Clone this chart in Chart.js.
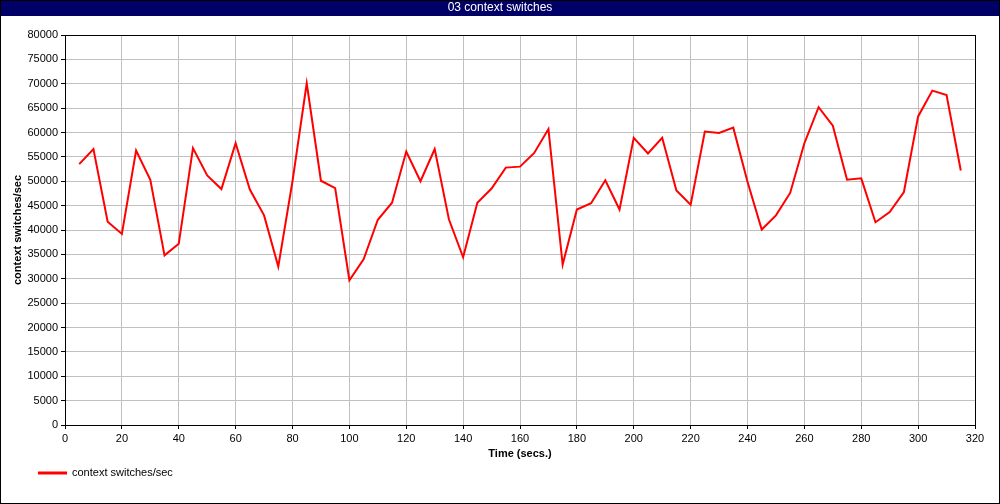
<!DOCTYPE html>
<html>
<head>
<meta charset="utf-8">
<script src="https://cdn.jsdelivr.net/npm/chart.js@4"></script>
<style>
html,body{margin:0;padding:0;background:#fff;}
#wrap{width:1000px;height:504px;position:relative;}
</style>
</head>
<body>
<div id="wrap"><canvas id="c" width="1000" height="504"></canvas></div>
<script>
const chartTitle = "03 context switches";
const seriesName = "context switches/sec";
const xTitle = "Time (secs.)";
const yTitle = "context switches/sec";
const times = [5,10,15,20,25,30,35,40,45,50,55,60,65,70,75,80,85,90,95,100,105,110,115,120,125,130,135,140,145,150,155,160,165,170,175,180,185,190,195,200,205,210,215,220,225,230,235,240,245,250,255,260,265,270,275,280,285,290,295,300,305,310,315];
const switches = [53500,56600,41700,39200,56300,50300,34800,37200,56800,51200,48400,57800,48300,43000,32500,50000,70100,50100,48600,29700,34000,42100,45600,56100,50000,56600,42200,34400,45600,48500,52800,53000,55800,60700,32900,44200,45500,50200,44200,58900,55700,58900,48100,45200,60200,59900,61000,49900,40100,43000,47600,57800,65200,61400,50300,50600,41600,43700,47800,63300,68600,67700,52200];
const xMin = 0, xMax = 320, xStep = 20;
const yMin = 0, yMax = 80000, yStep = 5000;

const FONT = "'Liberation Sans', Arial, sans-serif";

const framePlugin = {
  id: 'frame',
  beforeDraw(chart) {
    const ctx = chart.ctx;
    ctx.save();
    ctx.fillStyle = '#ffffff';
    ctx.fillRect(0, 0, chart.width, chart.height);
    ctx.fillStyle = '#000066';
    ctx.fillRect(0, 0, chart.width, 16);
    ctx.fillStyle = '#ffffff';
    ctx.font = '12px ' + FONT;
    ctx.textAlign = 'center';
    ctx.textBaseline = 'middle';
    ctx.fillText(chartTitle, chart.width / 2, 8);
    ctx.restore();
  },
  afterDraw(chart) {
    const ctx = chart.ctx;
    const a = chart.chartArea;
    ctx.save();
    ctx.strokeStyle = '#000';
    ctx.lineWidth = 1;
    ctx.strokeRect(Math.round(a.left) + 0.5, Math.round(a.top) + 0.5, Math.round(a.right - a.left), Math.round(a.bottom - a.top));
    ctx.strokeRect(0.5, 0.5, chart.width - 1, chart.height - 1);
    // legend
    const ds = chart.data.datasets[0];
    ctx.strokeStyle = ds.borderColor;
    ctx.lineWidth = 3;
    ctx.beginPath();
    ctx.moveTo(38, 473);
    ctx.lineTo(67, 473);
    ctx.stroke();
    ctx.fillStyle = '#000';
    ctx.font = '11px ' + FONT;
    ctx.textAlign = 'left';
    ctx.textBaseline = 'middle';
    ctx.fillText(ds.label, 72, 473);
    ctx.restore();
  }
};

new Chart(document.getElementById('c'), {
  type: 'line',
  data: {
    datasets: [{
      label: seriesName,
      data: times.map((t, i) => ({x: t, y: switches[i]})),
      borderColor: '#ff0000',
      borderWidth: 2,
      pointRadius: 0,
      tension: 0,
      fill: false
    }]
  },
  options: {
    responsive: false,
    animation: false,
    devicePixelRatio: 1,
    layout: { padding: { left: 0, right: 25, top: 35, bottom: 39 } },
    plugins: { legend: { display: false }, title: { display: false }, tooltip: { enabled: false } },
    scales: {
      x: {
        type: 'linear', min: xMin, max: xMax,
        ticks: { stepSize: xStep, color: '#000', font: { family: FONT, size: 11 }, padding: 3, maxRotation: 0, autoSkip: false, callback: v => String(v) },
        grid: { color: '#c0c0c0', tickColor: '#000', tickLength: 4, lineWidth: 1 },
        border: { color: '#000', width: 1 },
        title: { display: true, text: xTitle, color: '#000', font: { family: FONT, size: 11, weight: 'bold' }, padding: { top: 0, bottom: 4 } },
        afterFit(scale) { scale.height = 40; }
      },
      y: {
        type: 'linear', min: yMin, max: yMax,
        ticks: { stepSize: yStep, color: '#000', font: { family: FONT, size: 11 }, padding: 3, autoSkip: false, callback: v => String(v) },
        grid: { color: '#c0c0c0', tickColor: '#000', tickLength: 4, lineWidth: 1 },
        border: { color: '#000', width: 1 },
        title: { display: true, text: yTitle, color: '#000', font: { family: FONT, size: 11, weight: 'bold' }, padding: { top: 11, bottom: 0 } },
        afterFit(scale) { scale.width = 65; }
      }
    }
  },
  plugins: [framePlugin]
});
</script>
</body>
</html>
